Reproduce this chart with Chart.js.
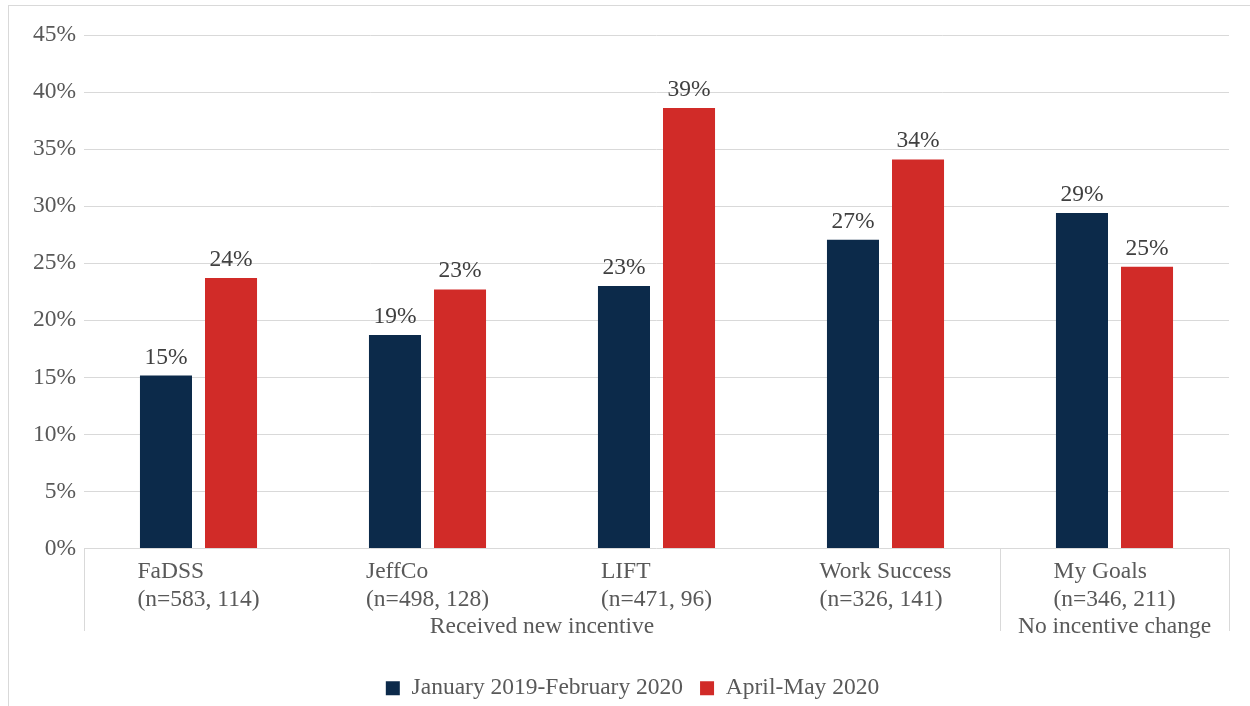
<!DOCTYPE html>
<html>
<head>
<meta charset="utf-8">
<script src="https://cdn.jsdelivr.net/npm/chart.js"></script>
<style>
    html, body { margin: 0; padding: 0; background: #fff; }
    #chart { display: block; }
</style>
</head>
<body>
<canvas id="chart" width="1250" height="706"></canvas>
<script>
// Datos
const categorias = [
    ['FaDSS', '(n=583, 114)'],
    ['JeffCo', '(n=498, 128)'],
    ['LIFT', '(n=471, 96)'],
    ['Work Success', '(n=326, 141)'],
    ['My Goals', '(n=346, 211)']
];
const grupos = ['Received new incentive', 'No incentive change'];
const grupoTamanos = [4, 1];
const serieNombres = ['January 2019-February 2020', 'April-May 2020'];
const serieAntes = [15.15, 18.7, 23.0, 27.05, 29.4];
const serieDespues = [23.7, 22.7, 38.6, 34.1, 24.7];
const ticksY = [0, 5, 10, 15, 20, 25, 30, 35, 40, 45];

const FUENTE = '"Liberation Serif", "Times New Roman", serif';
const TAM = 23.5;
const GRIS_LINEA = '#d9d9d9';

// Etiquetas de categoría, grupos, separadores y valores
const extras = {
    id: 'extras',
    afterLayout(chart) {
        // centrar la leyenda como en el original
        if (chart.legend) {
            chart.legend.left += 18;
            chart.legend.right += 18;
        }
    },
    beforeDraw(chart) {
        const ctx = chart.ctx;
        ctx.save();
        ctx.fillStyle = '#fff';
        ctx.fillRect(0, 0, chart.width, chart.height);
        ctx.strokeStyle = GRIS_LINEA;
        ctx.lineWidth = 1;
        ctx.strokeRect(8.5, 5.5, chart.width + 20, chart.height + 20);
        ctx.restore();
    },
    afterDraw(chart) {
        const ctx = chart.ctx;
        const x = chart.scales.x;
        const area = chart.chartArea;
        const paso = (x.right - x.left) / categorias.length;
        const fondo = 631;

        ctx.save();
        // separadores
        ctx.strokeStyle = GRIS_LINEA;
        ctx.lineWidth = 1;
        let idx = 0;
        const bordes = [0];
        grupoTamanos.forEach(n => { idx += n; bordes.push(idx); });
        bordes.forEach(b => {
            const px = Math.round(x.left + b * paso) + 0.5;
            ctx.beginPath();
            ctx.moveTo(px, area.bottom);
            ctx.lineTo(px, fondo);
            ctx.stroke();
        });

        // etiquetas de categoría
        ctx.font = TAM + 'px ' + FUENTE;
        ctx.fillStyle = '#595959';
        ctx.textBaseline = 'alphabetic';
        ctx.textAlign = 'left';
        categorias.forEach((lineas, i) => {
            const centro = x.getPixelForValue(i);
            const ancho = Math.max(...lineas.map(l => ctx.measureText(l).width));
            lineas.forEach((l, j) => {
                ctx.fillText(l, centro - ancho / 2, 578 + j * 27.5);
            });
        });

        // etiquetas de grupo
        ctx.textAlign = 'center';
        grupos.forEach((g, i) => {
            const a = x.left + bordes[i] * paso;
            const b = x.left + bordes[i + 1] * paso;
            ctx.fillText(g, (a + b) / 2, 633);
        });

        // valores sobre las barras
        ctx.fillStyle = '#404040';
        chart.data.datasets.forEach((ds, di) => {
            const meta = chart.getDatasetMeta(di);
            meta.data.forEach((bar, i) => {
                ctx.fillText(Math.round(ds.data[i]) + '%', bar.x, bar.y - 12);
            });
        });
        ctx.restore();
    }
};

new Chart(document.getElementById('chart'), {
    type: 'bar',
    data: {
        labels: categorias.map(c => c.join(' ')),
        datasets: [
            {
                label: serieNombres[0],
                data: serieAntes,
                backgroundColor: '#0c2a4a',
                categoryPercentage: 0.568,
                barPercentage: 0.8
            },
            {
                label: serieNombres[1],
                data: serieDespues,
                backgroundColor: '#d12b28',
                categoryPercentage: 0.568,
                barPercentage: 0.8
            }
        ]
    },
    options: {
        responsive: false,
        animation: false,
        layout: { padding: { top: 35, right: 21, bottom: -4, left: 0 } },
        plugins: {
            legend: {
                position: 'bottom',
                labels: {
                    boxWidth: 14,
                    boxHeight: 14,
                    padding: 17,
                    color: '#595959',
                    font: { family: FUENTE, size: TAM }
                }
            },
            tooltip: { enabled: false }
        },
        scales: {
            x: {
                grid: { display: false },
                border: { display: false },
                ticks: { display: false },
                afterFit(scale) { scale.height = 111; }
            },
            y: {
                min: 0,
                max: 45,
                afterBuildTicks(scale) {
                    scale.ticks = ticksY.map(v => ({ value: v }));
                },
                grid: { color: GRIS_LINEA, drawTicks: false },
                border: { display: false },
                ticks: {
                    padding: 8,
                    color: '#595959',
                    font: { family: FUENTE, size: TAM },
                    callback: v => v + '%'
                },
                afterFit(scale) { scale.width = 84; }
            }
        }
    },
    plugins: [extras]
});
</script>
</body>
</html>
